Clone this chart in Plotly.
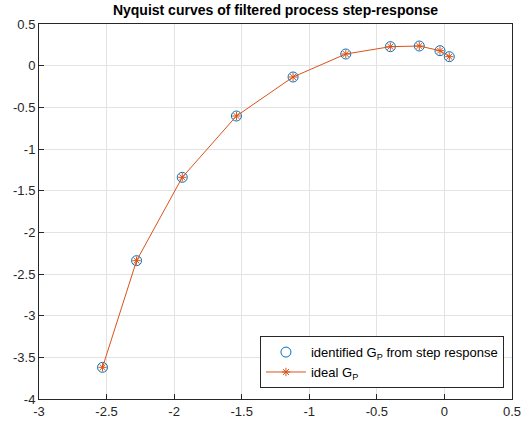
import plotly.graph_objects as go

# Identified G_P (from step response)
ident_re = [-2.53, -2.278, -1.94, -1.539, -1.12, -0.73, -0.40, -0.186, -0.033, 0.036]
ident_im = [-3.62, -2.34, -1.34, -0.604, -0.136, 0.14, 0.228, 0.236, 0.18, 0.108]

# Ideal G_P
ideal_re = [-2.53, -2.278, -1.94, -1.539, -1.12, -0.73, -0.40, -0.186, -0.033, 0.036]
ideal_im = [-3.62, -2.34, -1.34, -0.604, -0.136, 0.14, 0.228, 0.236, 0.18, 0.108]

x_ticks = [-3, -2.5, -2, -1.5, -1, -0.5, 0, 0.5]
x_ticklabels = ["-3", "-2.5", "-2", "-1.5", "-1", "-0.5", "0", "0.5"]
y_ticks = [0.5, 0, -0.5, -1, -1.5, -2, -2.5, -3, -3.5, -4]
y_ticklabels = ["0.5", "0", "-0.5", "-1", "-1.5", "-2", "-2.5", "-3", "-3.5", "-4"]

BLUE = "#0072BD"
ORANGE = "#D95319"
FONT = "Liberation Sans, Arial, sans-serif"

fig = go.Figure()
fig.add_trace(go.Scatter(
    x=ident_re, y=ident_im, mode="markers",
    name="identified G<sub>P</sub> from step response",
    marker=dict(symbol="circle-open", size=10, color=BLUE, line=dict(width=1, color=BLUE)),
))
fig.add_trace(go.Scatter(
    x=ideal_re, y=ideal_im, mode="lines+markers",
    name="ideal G<sub>P</sub>",
    line=dict(color=ORANGE, width=1),
    marker=dict(symbol="asterisk-open", size=7, color=ORANGE, line=dict(width=1, color=ORANGE)),
))

axis_common = dict(
    showgrid=True, gridcolor="#e3e3e3", gridwidth=1,
    showline=True, linecolor="#262626", linewidth=1, mirror=True,
    ticks="inside", ticklen=5, tickcolor="#262626",
    zeroline=False, automargin=False,
    tickfont=dict(family=FONT, size=13, color="#262626"),
)

fig.update_layout(
    width=527, height=427,
    margin=dict(l=39, r=15, t=24, b=28),
    paper_bgcolor="white", plot_bgcolor="white",
    title=dict(text="<b>Nyquist curves of filtered process step-response</b>",
               x=0.5, xref="paper", xanchor="center", y=0.987, yref="container", yanchor="top",
               font=dict(family=FONT, size=14, color="black")),
    xaxis=dict(range=[-3, 0.5], tickvals=x_ticks, ticktext=x_ticklabels, **axis_common),
    yaxis=dict(range=[-4, 0.5], tickvals=y_ticks, ticktext=y_ticklabels, **axis_common),
    legend=dict(x=0.983, y=0.029, xanchor="right", yanchor="bottom",
                bgcolor="white", bordercolor="#262626", borderwidth=1,
                font=dict(family=FONT, size=13, color="black"),
                tracegroupgap=0, itemwidth=40),
    showlegend=True,
)

fig.write_html("out.html", config={"displayModeBar": False},
               post_script="document.body.style.margin='0';")
